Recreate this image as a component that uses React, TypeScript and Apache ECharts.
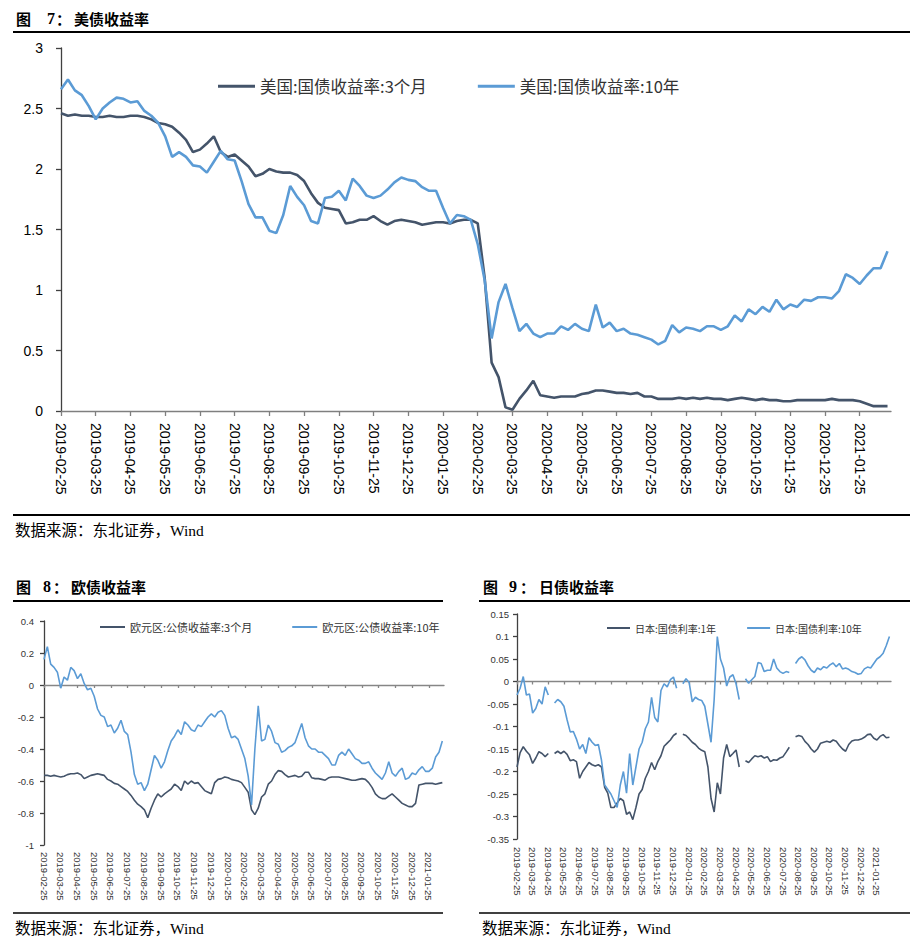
import React, { useEffect, useRef } from "react";
import * as echarts from "echarts";

// ---------- axis / category data ----------
const monthLabels = [
  "2019-02-25", "2019-03-25", "2019-04-25", "2019-05-25", "2019-06-25", "2019-07-25",
  "2019-08-25", "2019-09-25", "2019-10-25", "2019-11-25", "2019-12-25", "2020-01-25",
  "2020-02-25", "2020-03-25", "2020-04-25", "2020-05-25", "2020-06-25", "2020-07-25",
  "2020-08-25", "2020-09-25", "2020-10-25", "2020-11-25", "2020-12-25", "2021-01-25",
];
// sample spacing of the series below, in months from 2019-02-25
const STEP = 0.2;
const X_MAX = 23.9;

const usNames = ["美国:国债收益率:3个月", "美国:国债收益率:10年"];
const euNames = ["欧元区:公债收益率:3个月", "欧元区:公债收益率:10年"];
const jpNames = ["日本:国债利率:1年", "日本:国债利率:10年"];

// ---------- series values ----------
const us3m = [
  2.46, 2.44, 2.45, 2.44, 2.44, 2.43, 2.43, 2.44, 2.43, 2.43,
  2.44, 2.44, 2.43, 2.41, 2.38, 2.37, 2.35, 2.30, 2.24, 2.14,
  2.16, 2.21, 2.27, 2.14, 2.10, 2.12, 2.07, 2.02, 1.94, 1.96,
  2.00, 1.98, 1.97, 1.97, 1.95, 1.90, 1.80, 1.72, 1.68, 1.67,
  1.66, 1.55, 1.56, 1.58, 1.58, 1.61, 1.57, 1.54, 1.57, 1.58,
  1.57, 1.56, 1.54, 1.55, 1.56, 1.56, 1.55, 1.57, 1.58, 1.58,
  1.55, 1.10, 0.40, 0.28, 0.03, 0.01, 0.10, 0.17, 0.25, 0.13,
  0.12, 0.11, 0.12, 0.12, 0.12, 0.14, 0.15, 0.17, 0.17, 0.16,
  0.15, 0.15, 0.14, 0.15, 0.12, 0.12, 0.10, 0.10, 0.10, 0.11,
  0.10, 0.11, 0.10, 0.11, 0.10, 0.10, 0.09, 0.10, 0.11, 0.10,
  0.09, 0.10, 0.09, 0.09, 0.08, 0.08, 0.09, 0.09, 0.09, 0.09,
  0.09, 0.10, 0.09, 0.09, 0.09, 0.08, 0.06, 0.04, 0.04, 0.04,
];
const us10y = [
  2.66, 2.74, 2.65, 2.61, 2.52, 2.41, 2.50, 2.55, 2.59, 2.58,
  2.55, 2.56, 2.48, 2.44, 2.38, 2.27, 2.10, 2.14, 2.10, 2.03,
  2.02, 1.97, 2.06, 2.15, 2.08, 2.07, 1.90, 1.71, 1.60, 1.60,
  1.49, 1.47, 1.62, 1.86, 1.77, 1.70, 1.57, 1.55, 1.76, 1.77,
  1.82, 1.74, 1.92, 1.86, 1.78, 1.76, 1.78, 1.83, 1.89, 1.93,
  1.91, 1.90, 1.85, 1.82, 1.82, 1.68, 1.55, 1.62, 1.61, 1.58,
  1.38, 1.08, 0.60, 0.90, 1.05, 0.85, 0.66, 0.72, 0.64, 0.61,
  0.64, 0.64, 0.70, 0.67, 0.72, 0.68, 0.66, 0.88, 0.69, 0.73,
  0.66, 0.68, 0.64, 0.63, 0.61, 0.59, 0.55, 0.58, 0.71, 0.65,
  0.69, 0.68, 0.66, 0.70, 0.70, 0.67, 0.70, 0.79, 0.74, 0.84,
  0.80, 0.86, 0.82, 0.92, 0.84, 0.88, 0.86, 0.92, 0.91, 0.94,
  0.94, 0.93, 0.99, 1.13, 1.10, 1.05, 1.12, 1.18, 1.18, 1.32,
];
const eu3m = [
  -0.565, -0.565, -0.57, -0.565, -0.57, -0.575, -0.57, -0.56, -0.555, -0.555,
  -0.55, -0.56, -0.585, -0.575, -0.565, -0.56, -0.555, -0.56, -0.565, -0.59,
  -0.60, -0.615, -0.62, -0.635, -0.65, -0.665, -0.69, -0.72, -0.745, -0.76,
  -0.78, -0.83, -0.77, -0.72, -0.68, -0.70, -0.68, -0.665, -0.65, -0.62,
  -0.635, -0.66, -0.60, -0.62, -0.60, -0.615, -0.61, -0.635, -0.66, -0.67,
  -0.68, -0.61, -0.59, -0.585, -0.575, -0.58, -0.59, -0.595, -0.60, -0.61,
  -0.64, -0.67, -0.78, -0.81, -0.77, -0.70, -0.68, -0.62, -0.60, -0.56,
  -0.535, -0.54, -0.56, -0.575, -0.57, -0.565, -0.575, -0.57, -0.545, -0.545,
  -0.58, -0.585, -0.585, -0.59, -0.595, -0.58, -0.575, -0.575, -0.575, -0.58,
  -0.585, -0.59, -0.595, -0.595, -0.59, -0.585, -0.59, -0.61, -0.64, -0.68,
  -0.70, -0.71, -0.71, -0.695, -0.68, -0.70, -0.72, -0.74, -0.75, -0.76,
  -0.76, -0.74, -0.625, -0.62, -0.615, -0.615, -0.615, -0.62, -0.615, -0.61,
];
const eu10y = [
  0.16, 0.24, 0.13, 0.11, 0.08, -0.02, 0.05, 0.03, 0.11, 0.09,
  0.04, 0.07, 0.01, -0.03, -0.02, -0.07, -0.15, -0.19, -0.20, -0.26,
  -0.25, -0.30, -0.27, -0.22, -0.29, -0.31, -0.42, -0.56, -0.62, -0.61,
  -0.66, -0.62, -0.53, -0.44, -0.47, -0.52, -0.48, -0.41, -0.35, -0.32,
  -0.28, -0.31, -0.23, -0.25, -0.28, -0.29, -0.25, -0.26, -0.23, -0.20,
  -0.18, -0.20, -0.17, -0.16, -0.19, -0.27, -0.33, -0.32, -0.34, -0.40,
  -0.46, -0.57, -0.75, -0.40, -0.13, -0.35, -0.34, -0.25, -0.29, -0.36,
  -0.37, -0.42, -0.41, -0.39, -0.38, -0.36, -0.30, -0.24, -0.33, -0.38,
  -0.40, -0.40, -0.42, -0.42, -0.44, -0.46, -0.50, -0.50, -0.44, -0.42,
  -0.44, -0.40, -0.43, -0.46, -0.47, -0.49, -0.49, -0.48, -0.52, -0.55,
  -0.57, -0.59, -0.55, -0.48, -0.55, -0.57, -0.54, -0.52, -0.59, -0.58,
  -0.55, -0.56, -0.53, -0.51, -0.54, -0.54, -0.52, -0.45, -0.42, -0.35,
];
const jp1y = [
  -0.19, -0.158, -0.145, -0.155, -0.163, -0.182, -0.17, -0.156, -0.16, -0.167,
  -0.16, null, -0.16, -0.155, -0.16, -0.155, -0.162, -0.176, -0.174, -0.178,
  -0.215, -0.2, -0.19, -0.18, -0.185, -0.188, -0.185, -0.19, -0.235, -0.248,
  -0.28, -0.28, -0.27, -0.26, -0.265, -0.295, -0.29, -0.307, -0.28, -0.25,
  -0.24, -0.215, -0.2, -0.18, -0.196, -0.178, -0.165, -0.144, -0.137, -0.13,
  -0.12, -0.115, null, -0.117, -0.12, -0.127, -0.135, -0.14, -0.148, -0.153,
  -0.156, -0.19, -0.26, -0.29, -0.225, -0.25, -0.17, -0.14, -0.167, -0.16,
  -0.152, -0.19, null, -0.176, -0.18, -0.172, -0.165, -0.167, -0.165, -0.17,
  -0.167, -0.178, -0.174, -0.175, -0.17, -0.167, -0.157, -0.146, null, -0.123,
  -0.12, -0.122, -0.133, -0.14, -0.15, -0.157, -0.15, -0.137, -0.135, -0.133,
  -0.135, -0.13, -0.133, -0.142, -0.15, -0.155, -0.14, -0.132, -0.13, -0.13,
  -0.128, -0.124, -0.118, -0.117, -0.126, -0.13, -0.122, -0.118, -0.125, -0.124,
];
const jp10y = [
  -0.03, -0.015, 0.011, -0.03, -0.028, -0.07, -0.06, -0.04, -0.05, -0.012,
  -0.03, null, -0.048, -0.04, -0.045, -0.055, -0.085, -0.112, -0.111, -0.128,
  -0.15, -0.14, -0.16, -0.125, -0.135, -0.142, -0.14, -0.175, -0.23, -0.24,
  -0.25, -0.265, -0.28, -0.23, -0.2, -0.248, -0.16, -0.23, -0.19, -0.15,
  -0.135, -0.105, -0.09, -0.035, -0.08, -0.09, -0.02, -0.005, -0.012, 0.004,
  0.01, -0.015, null, -0.005, 0.006, -0.002, -0.045, -0.035, -0.04, -0.042,
  -0.055, -0.095, -0.135, -0.04, 0.1, 0.05, 0.03, -0.01, 0.01, 0.015,
  -0.005, -0.04, null, 0.006, -0.004, 0.004, 0.011, 0.042, 0.04, 0.022,
  0.025, 0.025, 0.05, 0.03, 0.022, 0.018, 0.022, 0.02, null, 0.04,
  0.05, 0.055, 0.048, 0.035, 0.025, 0.02, 0.03, 0.026, 0.033, 0.03,
  0.037, 0.041, 0.033, 0.04, 0.028, 0.03, 0.027, 0.022, 0.02, 0.016,
  0.018, 0.028, 0.032, 0.03, 0.04, 0.05, 0.055, 0.063, 0.08, 0.1,
];

// ---------- styling ----------
const DARK = "#44546A";
const LIGHT = "#5B9BD5";
const SANS = '"Liberation Sans", Arial, sans-serif';
const CJK = '"Noto Sans CJK SC", "Liberation Sans", sans-serif';
const SERIF_CJK = '"Liberation Serif", "Noto Sans CJK SC", serif';

const tickValues = monthLabels.map((_, i) => i);
const toPoints = (vals: (number | null)[]) =>
  vals.map((v, i) => [Math.round(i * STEP * 100) / 100, v == null ? "-" : v]);
const monthFormatter = (v: number) => {
  const r = Math.round(v);
  if (Math.abs(v - r) > 0.01) return "";
  return monthLabels[r] ?? "";
};

function labelAxis(grid: number, fontSize: number, color: string, margin: number) {
  return {
    type: "value", gridIndex: grid, min: 0, max: X_MAX, interval: 1, position: "bottom",
    axisLine: { show: false, onZero: false },
    axisTick: { show: false },
    splitLine: { show: false },
    axisLabel: {
      customValues: tickValues, formatter: monthFormatter, rotate: -90, fontSize, color, margin,
      fontFamily: SANS,
    },
  };
}
function lineAxis(grid: number, tickLen: number, color: string) {
  return {
    type: "value", gridIndex: grid, min: 0, max: X_MAX, interval: 1, position: "bottom",
    axisLine: { show: true, onZero: true, lineStyle: { color, width: 1.3 } },
    axisTick: { show: true, customValues: tickValues, length: tickLen, lineStyle: { color, width: 1.3 } },
    splitLine: { show: false },
    axisLabel: { show: false },
  };
}
function yAxis(grid: number, min: number, max: number, interval: number, fontSize: number, margin: number, tickLen: number, lineColor: string, labelColor: string) {
  return {
    type: "value", gridIndex: grid, min, max, interval,
    axisLine: { show: true, lineStyle: { color: lineColor, width: 1.3 } },
    axisTick: { show: true, length: tickLen, lineStyle: { color: lineColor, width: 1.3 } },
    splitLine: { show: false },
    axisLabel: { fontSize, margin, color: labelColor, fontFamily: SANS },
  };
}
function line(name: string, vals: (number | null)[], x: number, y: number, color: string, width: number) {
  return {
    name, type: "line", xAxisIndex: x, yAxisIndex: y, data: toPoints(vals),
    symbol: "none", showSymbol: false, connectNulls: false,
    lineStyle: { color, width }, itemStyle: { color }, silent: true,
  };
}
function txt(text: string, x: number, y: number, fontSize: number, fontFamily: string, bold = false) {
  return {
    type: "text", x, y, silent: true,
    style: { text, fontSize, fontFamily, fontWeight: bold ? "bold" : "normal", fill: "#000", verticalAlign: "middle", align: "left" },
  };
}
function rule(x1: number, x2: number, y: number, w: number) {
  return { type: "line", silent: true, shape: { x1, y1: y, x2, y2: y }, style: { stroke: "#000", lineWidth: w } };
}

const option = {
  animation: false,
  backgroundColor: "#fff",
  grid: [
    { left: 61, top: 48, width: 830, height: 363 },
    { left: 44, top: 621, width: 400, height: 224 },
    { left: 517, top: 614, width: 374, height: 225 },
  ],
  xAxis: [
    {
      ...lineAxis(0, 5, "#7f7f7f"),
      axisLabel: { show: true, customValues: tickValues, formatter: monthFormatter, rotate: -90, fontSize: 14, color: "#000", margin: 12, fontFamily: SANS },
    },
    labelAxis(1, 9.5, "#333", 7),
    lineAxis(1, 3, "#868686"),
    labelAxis(2, 9.5, "#333", 8),
    lineAxis(2, 3, "#868686"),
  ],
  yAxis: [
    yAxis(0, 0, 3, 0.5, 14, 18, 5, "#404040", "#000"),
    yAxis(1, -1, 0.4, 0.2, 9.5, 10, 4, "#404040", "#333"),
    yAxis(2, -0.35, 0.15, 0.05, 9.5, 8, 4, "#404040", "#333"),
  ],
  legend: [
    {
      data: usNames, left: 218, top: 78, padding: 0, icon: "rect", itemWidth: 37, itemHeight: 3, itemGap: 51,
      selectedMode: false, textStyle: { fontSize: 16.5, color: "#333", fontFamily: CJK },
    },
    {
      data: euNames, left: 100, top: 621.5, padding: 0, icon: "rect", itemWidth: 25, itemHeight: 2, itemGap: 40,
      selectedMode: false, textStyle: { fontSize: 11, color: "#333", fontFamily: CJK },
    },
    {
      data: jpNames, left: 607, top: 623, padding: 0, icon: "rect", itemWidth: 23, itemHeight: 2, itemGap: 31,
      selectedMode: false, textStyle: { fontSize: 10, color: "#333", fontFamily: CJK },
    },
  ],
  series: [
    line(usNames[0], us3m, 0, 0, DARK, 2.6),
    line(usNames[1], us10y, 0, 0, LIGHT, 2.6),
    line(euNames[0], eu3m, 1, 1, DARK, 1.6),
    line(euNames[1], eu10y, 1, 1, LIGHT, 1.6),
    line(jpNames[0], jp1y, 3, 2, DARK, 1.6),
    line(jpNames[1], jp10y, 3, 2, LIGHT, 1.6),
  ],
  graphic: {
    elements: [
      // figure 7 header
      txt("图", 16, 18.5, 15, CJK, true),
      txt("7", 47, 18.5, 16, SERIF_CJK, true),
      txt("：", 56, 18.5, 15, CJK, true),
      txt("美债收益率", 74, 18.5, 15, CJK, true),
      rule(13, 910, 32, 2),
      rule(13, 910, 515, 2),
      txt("数据来源：东北证券，Wind", 15, 530, 15.5, SERIF_CJK),
      // figure 8 header
      txt("图", 16, 586, 15, CJK, true),
      txt("8", 43, 586, 16, SERIF_CJK, true),
      txt("：", 53, 586, 15, CJK, true),
      txt("欧债收益率", 71, 586, 15, CJK, true),
      rule(13, 443, 601, 2),
      rule(13, 443, 913, 1.5),
      txt("数据来源：东北证券，Wind", 15, 928, 15.5, SERIF_CJK),
      // figure 9 header
      txt("图", 483, 586, 15, CJK, true),
      txt("9", 509, 586, 16, SERIF_CJK, true),
      txt("：", 520, 586, 15, CJK, true),
      txt("日债收益率", 539, 586, 15, CJK, true),
      rule(479, 910, 601, 2),
      rule(479, 910, 913, 1.5),
      txt("数据来源：东北证券，Wind", 482, 928, 15.5, SERIF_CJK),
    ],
  },
};

export default function App() {
  const ref = useRef<HTMLDivElement>(null);
  useEffect(() => {
    if (!ref.current) return;
    const chart = echarts.init(ref.current, null, { renderer: "svg" });
    chart.setOption(option as any);
    return () => chart.dispose();
  }, []);
  return (
    <div
      ref={ref}
      style={{ position: "absolute", left: 0, top: 0, width: 920, height: 950, background: "#fff" }}
    />
  );
}
